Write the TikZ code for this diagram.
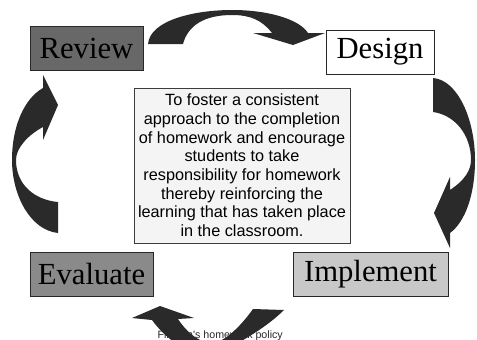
\documentclass[tikz,border=0pt]{standalone}
\usepackage{fontspec}
\setmainfont{Liberation Serif}
\newfontfamily\arialfont{Liberation Sans}
\tikzset{every picture/.style={line width=0.75pt}}
\begin{document}
\begin{tikzpicture}[x=0.75pt,y=0.75pt,yscale=-1,xscale=1,
  stage/.style={draw={rgb, 255:red, 40; green, 40; blue, 40}, inner sep=0pt, minimum height=33pt, font=\fontsize{23}{27}\selectfont},
  curvedarrow/.style={fill={rgb, 255:red, 42; green, 42; blue, 42}, draw=none}]
\useasboundingbox (0,0) rectangle (477,339);

% Text Node
\node (policy) [anchor=base west, inner sep=0pt, text={rgb, 255:red, 40; green, 40; blue, 40}, font=\arialfont\fontsize{8}{9.6}\selectfont] at (157,338) {Finham's homework policy};

% Stage Nodes
\node (review) [stage, minimum width=84.75pt, fill={rgb, 255:red, 104; green, 104; blue, 104}] at (86.5,48.5) {Review};
\node (design) [stage, minimum width=81pt, fill=white] at (380,52) {Design};
\node (implement) [stage, minimum width=116.25pt, fill={rgb, 255:red, 200; green, 200; blue, 200}] at (370.5,274) {Implement};
\node (evaluate) [stage, minimum width=92.25pt, fill={rgb, 255:red, 138; green, 138; blue, 138}] at (91.5,274) {Evaluate};

% Aim Node
\node (aim) [draw={rgb, 255:red, 60; green, 60; blue, 60}, fill={rgb, 255:red, 244; green, 244; blue, 244}, minimum width=162pt, minimum height=116.25pt, inner sep=0pt, align=center, font=\arialfont\fontsize{12.2}{14}\selectfont] at (242,165.5) {To foster a consistent\\approach to the completion\\of homework and encourage\\students to take\\responsibility for homework\\thereby reinforcing the\\learning that has taken place\\in the classroom.};

%Shape: Curved Arrow [review to design]
\fill [curvedarrow] (148,44) .. controls (150,20) and (195,10) .. (232,10) .. controls (270,10) and (300,20) .. (308,33) -- (325,33) -- (293,45) -- (253,33) -- (272,33) .. controls (262,20) and (250,15) .. (232,15) .. controls (205,15) and (188,25) .. (183,44) -- cycle ;
%Shape: Curved Arrow [design to implement]
\fill [curvedarrow] (433,78) .. controls (458,80) and (475,120) .. (475,160) .. controls (475,195) and (465,222) .. (450,233) -- (450,248) -- (434,213) -- (450,177) -- (450,190) .. controls (465,180) and (471,170) .. (471,160) .. controls (471,135) and (455,115) .. (433,112) -- cycle ;
%Shape: Curved Arrow [implement to evaluate]
\fill [curvedarrow] (284,310) .. controls (272,322) and (250,338) .. (220,352) .. controls (200,361) and (170,345) .. (152,320) -- (132,318) -- (160,306) -- (194,318) -- (178,319) .. controls (185,330) and (198,343) .. (212,343) .. controls (222,343) and (238,330) .. (253,309) -- cycle ;
%Shape: Curved Arrow [evaluate to review]
\fill [curvedarrow] (58,233) .. controls (30,230) and (12,195) .. (12,160) .. controls (12,125) and (25,98) .. (43,88) -- (43,75) -- (58,105) -- (43,140) -- (43,127) .. controls (28,135) and (16,148) .. (16,160) .. controls (16,185) and (35,200) .. (58,202) -- cycle ;
\end{tikzpicture}
\end{document}
